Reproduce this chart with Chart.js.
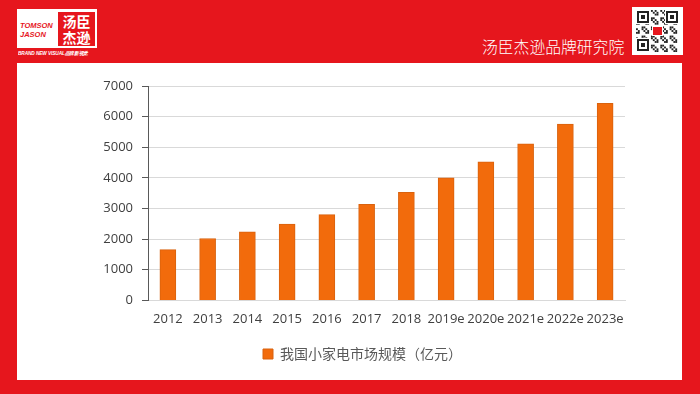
<!DOCTYPE html>
<html>
<head>
<meta charset="utf-8">
<script src="https://cdn.jsdelivr.net/npm/chart.js@4/dist/chart.umd.min.js"></script>
<style>
  html, body { margin: 0; padding: 0; }
  body { width: 700px; height: 394px; background: #e6161d; position: relative; overflow: hidden;
         font-family: "Noto Sans CJK SC", "Noto Sans", sans-serif; }
  #panel { position: absolute; left: 17px; top: 63px; width: 665px; height: 317px; background: #fff; }
  #logo { position: absolute; left: 17px; top: 9px; width: 80px; height: 39px; background: #fff; }
  #logo .en { position: absolute; left: 3px; top: 13px; color: #e6161d; font: italic bold 7.5px/8.5px "Liberation Sans", Arial, sans-serif; }
  #logo .cn { position: absolute; left: 41px; top: 3px; width: 37px; height: 34px; background: #e6161d; color: #fff;
              font: bold 14px/16px "Noto Sans CJK SC"; text-align: center; padding-top: 1px; box-sizing: border-box; }
  #slogan { position: absolute; left: 18px; top: 49px; color: #fff; font: italic bold 5px/8px "Liberation Sans", sans-serif;
            white-space: nowrap; letter-spacing: -0.1px; transform: scaleX(0.95); transform-origin: left center; }
  #title { position: absolute; left: 482px; top: 37px; color: #fff; font: 300 15.8px/20px "Noto Sans CJK SC"; white-space: nowrap; }
  #qr { position: absolute; left: 632px; top: 7px; width: 51px; height: 48px; background: #fff; }
  #qr canvas { position: absolute; left: 4px; top: 3px; }
</style>
</head>
<body>
<div id="logo">
  <div class="en">TOMSON<br>JASON</div>
  <div class="cn">汤臣<br>杰逊</div>
</div>
<div id="slogan">BRAND NEW VISUAL品牌新视觉</div>
<div id="title">汤臣杰逊品牌研究院</div>
<div id="qr"><canvas id="qrc" width="43" height="42"></canvas></div>
<div id="panel"><canvas id="chart" width="665" height="317"></canvas></div>
<script>
const years = ['2012', '2013', '2014', '2015', '2016', '2017', '2018', '2019e', '2020e', '2021e', '2022e', '2023e'];
const marketSize = [1660, 2020, 2235, 2490, 2800, 3140, 3530, 4000, 4525, 5115, 5760, 6435];
const yTicks = [0, 1000, 2000, 3000, 4000, 5000, 6000, 7000];
const seriesName = '我国小家电市场规模（亿元）';

// decorative qr block
(function drawQr() {
  const c = document.getElementById('qrc').getContext('2d');
  const n = 23, m = 43 / n;
  c.fillStyle = '#222';
  for (let y = 0; y < n; y++) {
    for (let x = 0; x < n; x++) {
      if ((x * 7 + y * 13 + x * y) % 5 < 2) c.fillRect(x * m, y * m * 42 / 43, m, m);
    }
  }
  const finder = (fx, fy) => {
    c.fillStyle = '#fff'; c.fillRect(fx - 1, fy - 1, 14, 14);
    c.fillStyle = '#222'; c.fillRect(fx, fy, 12, 12);
    c.fillStyle = '#fff'; c.fillRect(fx + 2, fy + 2, 8, 8);
    c.fillStyle = '#222'; c.fillRect(fx + 4, fy + 4, 4, 4);
  };
  finder(1, 1); finder(30, 1); finder(1, 29);
  c.fillStyle = '#fff'; c.fillRect(16, 16, 11, 10);
  c.fillStyle = '#e6161d'; c.fillRect(17, 17, 9, 8);
})();

const ctx = document.getElementById('chart').getContext('2d');
new Chart(ctx, {
  type: 'bar',
  data: {
    labels: years,
    datasets: [{
      label: seriesName,
      data: marketSize,
      backgroundColor: '#f26b0c',
      borderColor: '#d9620e',
      borderWidth: 1,
      barThickness: 16
    }]
  },
  options: {
    responsive: false,
    animation: false,
    layout: { padding: { left: 83, right: 57, top: 23, bottom: 9 } },
    plugins: {
      tooltip: { enabled: false },
      legend: {
        position: 'bottom',
        labels: {
          boxWidth: 10, boxHeight: 10, padding: 9,
          color: '#595959',
          font: { family: '"Noto Sans CJK SC"', size: 14 }
        }
      }
    },
    scales: {
      x: {
        grid: { display: false, drawTicks: false },
        border: { color: '#d9d9d9' },
        ticks: { color: '#404040', padding: 11, maxRotation: 0, autoSkip: false,
                 font: { family: '"Open Sans"', size: 13 } }
      },
      y: {
        min: 0, max: 7000,
        afterBuildTicks: s => { s.ticks = yTicks.map(v => ({ value: v })); },
        afterFit: s => { s.width = 48; },
        grid: { color: '#d9d9d9', tickColor: '#595959', tickLength: 6 },
        border: { color: '#595959', width: 1 },
        ticks: { color: '#404040', padding: 9, font: { family: '"Open Sans"', size: 13 },
                 callback: v => String(v) }
      }
    }
  }
});
</script>
</body>
</html>
